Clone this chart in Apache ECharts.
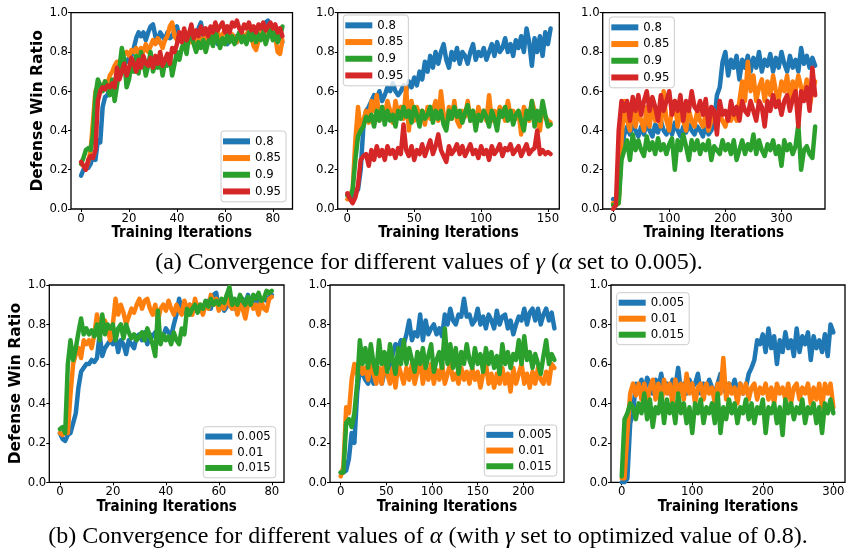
<!DOCTYPE html>
<html><head><meta charset="utf-8">
<script src="https://cdn.jsdelivr.net/npm/echarts@6/dist/echarts.min.js"></script>
<style>html,body{margin:0;padding:0;background:#fff}#c{width:849px;height:552px}</style>
</head><body><div id="c"></div>
<script>
// ---------- DATA ----------
const gammaNames = ['0.8', '0.85', '0.9', '0.95'];
const alphaNames = ['0.005', '0.01', '0.015'];
const yTickValues = [0, 0.2, 0.4, 0.6, 0.8, 1.0];
const xTicksA1 = [0, 20, 40, 60, 80];
const xTicksA2 = [0, 50, 100, 150];
const xTicksA3 = [0, 100, 200, 300];
const xTicksB1 = [0, 20, 40, 60, 80];
const xTicksB2 = [0, 50, 100, 150, 200];
const xTicksB3 = [0, 100, 200, 300];
// sampling step (training iterations between successive readings)
const stepA1 = 1, stepA2 = 2, stepA3 = 5, stepB1 = 1, stepB2 = 3, stepB3 = 4;

// (a) panel 1
const a1_g080 = [0.17,0.2,0.22,0.21,0.23,0.27,0.25,0.35,0.34,0.52,
0.57,0.58,0.62,0.64,0.62,0.66,0.7,0.72,0.74,0.75,
0.77,0.78,0.82,0.87,0.9,0.88,0.9,0.86,0.9,0.93,
0.94,0.88,0.85,0.9,0.88,0.86,0.9,0.87,0.88,0.91,
0.93,0.88,0.85,0.89,0.87,0.85,0.88,0.9,0.87,0.92,
0.95,0.88,0.84,0.87,0.85,0.88,0.86,0.84,0.87,0.85,
0.86,0.84,0.87,0.86,0.88,0.85,0.87,0.89,0.86,0.88,
0.87,0.89,0.86,0.9,0.88,0.92,0.89,0.95,0.96,0.9,
0.88,0.87,0.89,0.86,0.85];
const a1_g085 = [0.23,0.22,0.21,0.24,0.3,0.45,0.6,0.62,0.63,0.62,
0.65,0.63,0.68,0.7,0.73,0.75,0.74,0.77,0.79,0.8,
0.78,0.81,0.8,0.82,0.79,0.82,0.8,0.84,0.8,0.83,
0.86,0.84,0.87,0.85,0.82,0.86,0.88,0.93,0.95,0.88,
0.86,0.9,0.88,0.91,0.87,0.9,0.85,0.88,0.86,0.84,
0.87,0.85,0.88,0.86,0.89,0.87,0.86,0.9,0.87,0.89,
0.91,0.88,0.86,0.89,0.87,0.85,0.88,0.9,0.87,0.89,
0.91,0.88,0.83,0.81,0.86,0.9,0.88,0.91,0.93,0.9,
0.92,0.88,0.8,0.79,0.86];
const a1_g090 = [0.23,0.26,0.3,0.31,0.3,0.38,0.58,0.66,0.63,0.6,
0.65,0.62,0.58,0.66,0.55,0.63,0.72,0.82,0.76,0.62,
0.66,0.74,0.7,0.78,0.69,0.8,0.75,0.68,0.73,0.8,
0.7,0.74,0.72,0.77,0.68,0.75,0.73,0.78,0.68,0.74,
0.8,0.76,0.82,0.85,0.79,0.88,0.9,0.84,0.8,0.85,
0.82,0.86,0.8,0.85,0.88,0.83,0.91,0.86,0.82,0.87,
0.84,0.89,0.85,0.88,0.84,0.87,0.9,0.85,0.88,0.84,
0.9,0.86,0.92,0.85,0.89,0.86,0.9,0.84,0.88,0.92,
0.86,0.9,0.85,0.88,0.93];
const a1_g095 = [0.24,0.22,0.2,0.25,0.27,0.26,0.3,0.55,0.6,0.62,
0.61,0.63,0.62,0.64,0.62,0.72,0.66,0.7,0.74,0.68,
0.72,0.77,0.74,0.7,0.76,0.72,0.78,0.74,0.73,0.77,
0.72,0.78,0.74,0.8,0.73,0.76,0.79,0.74,0.82,0.8,
0.84,0.9,0.85,0.92,0.86,0.89,0.94,0.87,0.91,0.88,
0.93,0.89,0.92,0.88,0.93,0.9,0.95,0.91,0.93,0.95,
0.9,0.93,0.9,0.95,0.93,0.96,0.92,0.9,0.94,0.92,
0.95,0.91,0.93,0.9,0.94,0.92,0.95,0.91,0.93,0.95,
0.92,0.94,0.9,0.92,0.88];

// (a) panel 2
const a2_g080 = [0.07,0.06,0.05,0.08,0.1,0.2,0.42,0.5,0.52,0.55,
0.58,0.56,0.6,0.55,0.58,0.62,0.6,0.64,0.6,0.58,
0.6,0.63,0.6,0.65,0.62,0.67,0.63,0.7,0.66,0.75,
0.7,0.78,0.72,0.8,0.74,0.8,0.84,0.76,0.72,0.8,
0.76,0.82,0.74,0.8,0.78,0.74,0.8,0.84,0.76,0.8,
0.78,0.82,0.76,0.8,0.84,0.78,0.85,0.8,0.82,0.87,
0.8,0.84,0.78,0.86,0.82,0.88,0.8,0.92,0.85,0.73,
0.87,0.8,0.88,0.78,0.9,0.84,0.92];
const a2_g085 = [0.05,0.07,0.1,0.35,0.52,0.4,0.45,0.5,0.44,0.55,
0.5,0.58,0.45,0.52,0.48,0.55,0.5,0.44,0.55,0.48,
0.52,0.46,0.62,0.4,0.55,0.45,0.52,0.47,0.5,0.43,
0.52,0.46,0.5,0.55,0.45,0.6,0.48,0.42,0.52,0.46,
0.55,0.45,0.42,0.5,0.47,0.55,0.45,0.5,0.42,0.52,
0.47,0.5,0.45,0.58,0.45,0.5,0.47,0.52,0.5,0.45,
0.55,0.48,0.5,0.46,0.5,0.38,0.52,0.47,0.45,0.55,
0.5,0.45,0.4,0.52,0.47,0.45,0.44];
const a2_g090 = [0.07,0.06,0.1,0.25,0.37,0.4,0.42,0.47,0.45,0.48,
0.42,0.5,0.45,0.52,0.43,0.5,0.45,0.48,0.42,0.5,
0.46,0.52,0.47,0.5,0.44,0.52,0.48,0.42,0.5,0.46,
0.48,0.52,0.44,0.5,0.46,0.5,0.43,0.4,0.5,0.46,
0.52,0.47,0.5,0.44,0.49,0.53,0.45,0.5,0.4,0.48,
0.45,0.5,0.47,0.42,0.5,0.46,0.4,0.5,0.47,0.52,
0.45,0.5,0.43,0.48,0.5,0.45,0.4,0.5,0.46,0.55,
0.42,0.5,0.45,0.55,0.48,0.42,0.43];
const a2_g095 = [0.08,0.05,0.03,0.06,0.12,0.25,0.27,0.28,0.22,0.3,
0.25,0.32,0.27,0.3,0.25,0.32,0.28,0.3,0.26,0.31,
0.28,0.43,0.3,0.27,0.32,0.25,0.3,0.28,0.33,0.27,
0.31,0.35,0.28,0.32,0.38,0.3,0.27,0.24,0.32,0.28,
0.3,0.33,0.28,0.32,0.27,0.3,0.33,0.28,0.3,0.26,
0.32,0.28,0.3,0.25,0.32,0.28,0.3,0.33,0.27,0.31,
0.3,0.33,0.28,0.3,0.32,0.27,0.3,0.33,0.28,0.3,
0.31,0.4,0.28,0.3,0.28,0.29,0.28];

// (a) panel 3
const a3_g080 = [0.05,0.04,0.05,0.3,0.38,0.42,0.38,0.44,0.4,0.37,
0.42,0.38,0.45,0.4,0.37,0.43,0.39,0.45,0.4,0.38,
0.42,0.38,0.44,0.4,0.37,0.42,0.39,0.43,0.4,0.38,
0.42,0.4,0.37,0.43,0.38,0.4,0.44,0.58,0.62,0.75,
0.8,0.68,0.76,0.72,0.78,0.66,0.76,0.72,0.78,0.7,
0.77,0.72,0.8,0.7,0.76,0.73,0.79,0.7,0.77,0.72,
0.8,0.74,0.7,0.78,0.72,0.76,0.7,0.82,0.74,0.78,
0.72,0.77,0.73];
const a3_g085 = [0.03,0.02,0.03,0.35,0.55,0.45,0.4,0.55,0.42,0.5,
0.45,0.4,0.52,0.42,0.55,0.45,0.48,0.42,0.6,0.45,
0.4,0.52,0.55,0.42,0.5,0.45,0.4,0.5,0.45,0.42,
0.5,0.45,0.42,0.48,0.4,0.45,0.5,0.42,0.48,0.45,
0.42,0.48,0.45,0.5,0.45,0.55,0.65,0.55,0.75,0.6,
0.68,0.55,0.62,0.66,0.55,0.65,0.58,0.68,0.6,0.56,
0.65,0.6,0.68,0.55,0.65,0.6,0.68,0.62,0.58,0.66,
0.52,0.6,0.65];
const a3_g090 = [0.02,0.02,0.03,0.25,0.3,0.35,0.25,0.38,0.3,0.35,
0.3,0.27,0.37,0.3,0.34,0.28,0.36,0.3,0.33,0.28,
0.33,0.36,0.2,0.35,0.3,0.38,0.32,0.25,0.35,0.3,
0.35,0.28,0.33,0.3,0.35,0.25,0.32,0.3,0.28,0.35,
0.3,0.33,0.28,0.35,0.25,0.3,0.35,0.28,0.33,0.3,
0.38,0.28,0.35,0.3,0.27,0.33,0.3,0.35,0.28,0.32,
0.22,0.35,0.3,0.33,0.28,0.32,0.43,0.2,0.3,0.32,
0.28,0.26,0.42];
const a3_g095 = [0.0,0.02,0.4,0.55,0.5,0.55,0.45,0.57,0.5,0.58,
0.48,0.55,0.6,0.5,0.57,0.52,0.45,0.58,0.5,0.55,
0.6,0.48,0.55,0.5,0.58,0.45,0.55,0.5,0.6,0.52,
0.5,0.55,0.48,0.56,0.42,0.52,0.5,0.38,0.55,0.48,
0.5,0.45,0.55,0.48,0.52,0.45,0.55,0.5,0.48,0.55,
0.5,0.45,0.55,0.52,0.42,0.55,0.5,0.58,0.52,0.55,
0.48,0.55,0.58,0.5,0.56,0.6,0.42,0.6,0.55,0.62,
0.5,0.72,0.58];

// (b) panel 1
const b1_a005 = [0.25,0.22,0.21,0.24,0.25,0.3,0.35,0.48,0.56,0.58,
0.6,0.6,0.62,0.61,0.63,0.75,0.64,0.68,0.7,0.72,
0.7,0.74,0.66,0.72,0.7,0.65,0.72,0.7,0.68,0.74,
0.75,0.72,0.76,0.7,0.75,0.74,0.76,0.72,0.75,0.74,
0.78,0.76,0.74,0.8,0.85,0.93,0.87,0.88,0.85,0.9,
0.88,0.87,0.9,0.88,0.86,0.9,0.92,0.88,0.95,0.96,
0.88,0.9,0.87,0.89,0.95,0.91,0.88,0.92,0.9,0.93,
0.89,0.95,0.9,0.92,0.9,0.94,0.91,0.93,0.92,0.94,
0.95];
const b1_a010 = [0.25,0.24,0.26,0.25,0.45,0.6,0.65,0.68,0.63,0.72,
0.7,0.72,0.68,0.75,0.85,0.78,0.8,0.82,0.78,0.72,
0.8,0.93,0.85,0.9,0.86,0.8,0.84,0.88,0.86,0.9,
0.93,0.88,0.92,0.93,0.88,0.85,0.9,0.82,0.88,0.9,
0.87,0.92,0.88,0.85,0.9,0.87,0.85,0.92,0.88,0.9,
0.85,0.93,0.88,0.9,0.85,0.91,0.88,0.95,0.9,0.93,
0.87,0.92,0.88,0.95,0.9,0.88,0.92,0.85,0.9,0.88,
0.83,0.9,0.92,0.88,0.9,0.85,0.92,0.88,0.87,0.93,
0.94];
const b1_a015 = [0.27,0.28,0.25,0.6,0.72,0.62,0.68,0.76,0.83,0.75,
0.78,0.75,0.77,0.74,0.8,0.72,0.85,0.75,0.8,0.78,
0.8,0.72,0.78,0.8,0.73,0.8,0.76,0.73,0.75,0.72,
0.74,0.76,0.72,0.78,0.74,0.7,0.64,0.87,0.7,0.75,
0.72,0.74,0.7,0.76,0.72,0.7,0.78,0.75,0.88,0.85,
0.88,0.9,0.86,0.9,0.88,0.92,0.89,0.93,0.9,0.92,
0.9,0.93,0.91,0.95,0.99,0.9,0.93,0.9,0.95,0.92,
0.9,0.94,0.9,0.95,0.93,0.96,0.92,0.93,0.97,0.96,
0.97];

// (b) panel 2
const b2_a005 = [0.05,0.05,0.06,0.12,0.25,0.2,0.45,0.58,0.55,0.52,
0.5,0.55,0.5,0.52,0.55,0.5,0.56,0.6,0.58,0.65,
0.7,0.68,0.72,0.7,0.75,0.82,0.72,0.76,0.74,0.85,
0.72,0.82,0.75,0.78,0.8,0.75,0.78,0.74,0.85,0.8,
0.88,0.82,0.8,0.85,0.84,0.93,0.84,0.85,0.8,0.82,
0.88,0.8,0.84,0.78,0.85,0.82,0.78,0.87,0.8,0.84,
0.85,0.78,0.82,0.75,0.8,0.84,0.82,0.88,0.8,0.86,
0.88,0.82,0.88,0.8,0.85,0.88,0.82,0.86,0.78];
const b2_a010 = [0.03,0.08,0.38,0.35,0.52,0.6,0.55,0.62,0.55,0.58,
0.52,0.6,0.55,0.5,0.58,0.5,0.62,0.55,0.5,0.58,
0.48,0.6,0.55,0.5,0.58,0.52,0.6,0.5,0.56,0.62,
0.5,0.58,0.52,0.6,0.5,0.57,0.52,0.6,0.5,0.55,
0.6,0.52,0.55,0.5,0.58,0.52,0.56,0.5,0.58,0.52,
0.56,0.48,0.55,0.6,0.5,0.55,0.48,0.55,0.5,0.58,
0.5,0.55,0.46,0.58,0.5,0.55,0.6,0.5,0.55,0.48,
0.56,0.5,0.58,0.52,0.5,0.56,0.5,0.6,0.58];
const b2_a015 = [0.05,0.05,0.3,0.32,0.28,0.35,0.5,0.72,0.6,0.68,
0.58,0.7,0.6,0.55,0.72,0.6,0.66,0.56,0.7,0.62,
0.55,0.68,0.6,0.72,0.6,0.68,0.62,0.56,0.66,0.6,
0.68,0.58,0.64,0.7,0.56,0.62,0.66,0.58,0.78,0.6,
0.7,0.58,0.68,0.55,0.66,0.6,0.7,0.62,0.58,0.68,
0.6,0.65,0.56,0.68,0.6,0.66,0.58,0.64,0.55,0.7,
0.6,0.66,0.58,0.65,0.62,0.72,0.6,0.74,0.62,0.66,
0.58,0.65,0.6,0.55,0.64,0.72,0.6,0.65,0.62];

// (b) panel 3
const b3_a005 = [0.0,0.0,0.02,0.3,0.35,0.5,0.48,0.52,0.45,0.53,
0.5,0.45,0.52,0.48,0.55,0.46,0.5,0.45,0.52,0.48,
0.58,0.46,0.5,0.45,0.52,0.48,0.5,0.55,0.45,0.5,
0.47,0.52,0.48,0.45,0.5,0.55,0.48,0.45,0.5,0.47,
0.52,0.46,0.5,0.45,0.48,0.55,0.58,0.62,0.72,0.7,
0.75,0.66,0.78,0.68,0.74,0.6,0.72,0.66,0.76,0.68,
0.72,0.64,0.78,0.66,0.74,0.7,0.76,0.62,0.74,0.68,
0.72,0.66,0.75,0.64,0.8,0.76];
const b3_a010 = [0.02,0.02,0.25,0.45,0.5,0.44,0.5,0.42,0.5,0.4,
0.48,0.52,0.42,0.5,0.38,0.52,0.45,0.5,0.4,0.52,
0.45,0.5,0.42,0.55,0.45,0.5,0.4,0.48,0.5,0.42,
0.5,0.45,0.48,0.4,0.5,0.45,0.63,0.42,0.5,0.45,
0.48,0.4,0.5,0.45,0.5,0.42,0.48,0.5,0.42,0.48,
0.45,0.5,0.42,0.48,0.4,0.5,0.45,0.48,0.42,0.5,
0.4,0.48,0.5,0.42,0.48,0.45,0.5,0.4,0.48,0.42,
0.5,0.38,0.5,0.45,0.5,0.38];
const b3_a015 = [0.03,0.32,0.35,0.4,0.38,0.32,0.4,0.35,0.45,0.32,
0.42,0.28,0.38,0.35,0.45,0.3,0.42,0.35,0.4,0.3,
0.45,0.35,0.4,0.3,0.38,0.25,0.4,0.35,0.42,0.3,
0.38,0.35,0.4,0.3,0.45,0.25,0.38,0.32,0.42,0.35,
0.4,0.3,0.38,0.35,0.42,0.32,0.4,0.3,0.38,0.35,
0.42,0.25,0.38,0.35,0.4,0.3,0.38,0.24,0.42,0.35,
0.4,0.32,0.38,0.35,0.42,0.3,0.38,0.35,0.4,0.3,
0.38,0.25,0.4,0.35,0.42,0.35];

const captionA = '(a) Convergence for different values of {i|γ} ({i|α} set to 0.005).';
const captionB = '(b) Convergence for different values of {i|α} (with {i|γ} set to optimized value of 0.8).';
const yTitle = 'Defense Win Ratio';
const xTitle = 'Training Iterations';

// ---------- LAYOUT / STYLE ----------
const COLORS = ['#1f77b4', '#ff7f0e', '#2ca02c', '#d62728'];
const SANS = '"DejaVu Sans Condensed", "DejaVu Sans", sans-serif';
const SANS_V = '"DejaVu Sans", sans-serif';
const SERIF = '"Liberation Serif", "Times New Roman", serif';
const CAP_SIZE = 24;
const LINE_W = 4.5;

const panels = [
  {grid: {left: 71, top: 12.7, width: 221.5, height: 196.3}, xmin: -4.2, xmax: 88.2, ticks: xTicksA1,
   step: stepA1, ys: [a1_g080, a1_g085, a1_g090, a1_g095], names: gammaNames, yName: true,
   legend: {left: 221, top: 131}, lh: 16.7},
  {grid: {left: 337.7, top: 12.7, width: 221.6, height: 196.3}, xmin: -7.2, xmax: 158.5, ticks: xTicksA2,
   step: stepA2, ys: [a2_g080, a2_g085, a2_g090, a2_g095], names: gammaNames, yName: false,
   legend: {left: 343.3, top: 15}, lh: 16.7},
  {grid: {left: 602.7, top: 12.7, width: 222.3, height: 196.3}, xmin: -18.5, xmax: 377.5, ticks: xTicksA3,
   step: stepA3, ys: [a3_g080, a3_g085, a3_g090, a3_g095], names: gammaNames, yName: false,
   legend: {left: 609.3, top: 17}, lh: 16.7},
  {grid: {left: 49.3, top: 285, width: 234.7, height: 197.3}, xmin: -4, xmax: 84.6, ticks: xTicksB1,
   step: stepB1, ys: [b1_a005, b1_a010, b1_a015], names: alphaNames, yName: true,
   legend: {left: 203.3, top: 426.7}, lh: 15.7},
  {grid: {left: 330, top: 285, width: 234, height: 197.3}, xmin: -11.7, xmax: 244.5, ticks: xTicksB2,
   step: stepB2, ys: [b2_a005, b2_a010, b2_a015], names: alphaNames, yName: false,
   legend: {left: 484.3, top: 425}, lh: 15.7},
  {grid: {left: 611, top: 285, width: 234, height: 197.3}, xmin: -15.2, xmax: 316.5, ticks: xTicksB3,
   step: stepB3, ys: [b3_a005, b3_a010, b3_a015], names: alphaNames, yName: false,
   legend: {left: 616.7, top: 292.7}, lh: 16}
];

const option = {
  animation: false,
  backgroundColor: '#ffffff',
  grid: [], xAxis: [], yAxis: [], series: [], legend: [],
  graphic: []
};

panels.forEach((p, gi) => {
  option.grid.push(Object.assign({show: true, borderColor: '#000', borderWidth: 1.3,
    backgroundColor: 'transparent', containLabel: false}, p.grid));
  option.xAxis.push({
    type: 'value', gridIndex: gi, min: p.xmin, max: p.xmax, position: 'bottom',
    axisLine: {show: false, onZero: false}, splitLine: {show: false},
    axisTick: {show: true, customValues: p.ticks, length: 3, lineStyle: {color: '#000', width: 1}},
    axisLabel: {customValues: p.ticks, margin: 3, fontSize: 13, color: '#000', fontFamily: SANS},
    name: xTitle, nameLocation: 'middle', nameGap: 12,
    nameTextStyle: {fontSize: 15, fontWeight: 'bold', color: '#000', fontFamily: SANS}
  });
  option.yAxis.push({
    type: 'value', gridIndex: gi, min: 0, max: 1, position: 'left',
    axisLine: {show: false, onZero: false}, splitLine: {show: false},
    axisTick: {show: true, customValues: yTickValues, length: 3, lineStyle: {color: '#000', width: 1}},
    axisLabel: {customValues: yTickValues, margin: 3, fontSize: 13, color: '#000', fontFamily: SANS,
      formatter: v => v.toFixed(1)},
    name: p.yName ? yTitle : '', nameLocation: 'middle', nameGap: 23,
    nameTextStyle: {fontSize: 15.5, fontWeight: 'bold', color: '#000', fontFamily: SANS_V}
  });
  p.ys.forEach((ys, si) => {
    option.series.push({
      type: 'line', name: p.names[si], xAxisIndex: gi, yAxisIndex: gi,
      showSymbol: false, symbol: 'none', smooth: false, clip: true,
      color: COLORS[si],
      lineStyle: {width: LINE_W, color: COLORS[si], cap: 'round', join: 'round'},
      data: ys.map((v, i) => [i * p.step, v])
    });
  });
  option.legend.push({
    show: true, orient: 'vertical', left: p.legend.left, top: p.legend.top,
    data: p.names, icon: 'rect', itemWidth: 27, itemHeight: 6, itemGap: 0,
    selectedMode: false, padding: [2, 5, 2, 2],
    backgroundColor: 'rgba(255,255,255,0.8)', borderColor: '#cccccc', borderWidth: 1, borderRadius: 3,
    textStyle: {fontSize: 13, color: '#000', fontFamily: SANS, lineHeight: p.lh}
  });
});

const capRich = {i: {fontStyle: 'italic', fontFamily: SERIF, fontSize: CAP_SIZE, fill: '#000', color: '#000'}};
option.graphic.push({type: 'text', x: 429, y: 263, z: 10,
  style: {text: captionA, fontFamily: SERIF, fontSize: CAP_SIZE, fill: '#000', align: 'center', verticalAlign: 'middle', rich: capRich}});
option.graphic.push({type: 'text', x: 428, y: 537, z: 10,
  style: {text: captionB, fontFamily: SERIF, fontSize: CAP_SIZE, fill: '#000', align: 'center', verticalAlign: 'middle', rich: capRich}});

const chart = echarts.init(document.getElementById('c'), null, {renderer: 'canvas'});
chart.setOption(option);
</script></body></html>
